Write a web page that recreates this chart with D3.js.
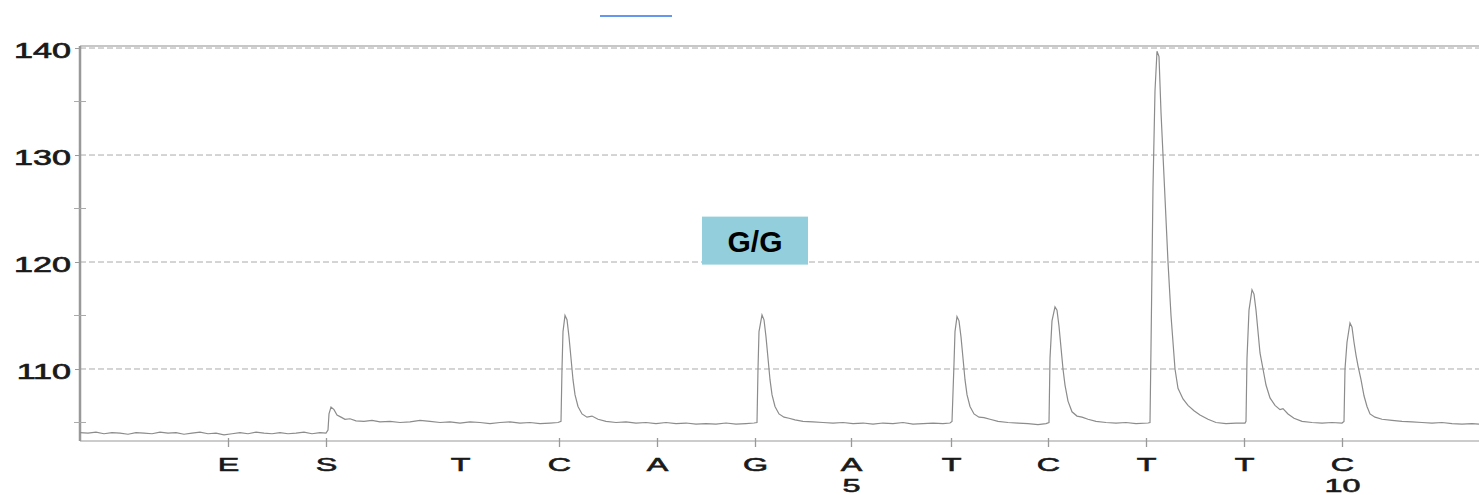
<!DOCTYPE html>
<html lang="en">
<head>
    <meta charset="UTF-8">
    <title>Pyrogram G/G</title>
    <script src="https://d3js.org/d3.v7.min.js"></script>
    <style>
        body { margin: 0; background: #fff; }
        text { font-family: "Liberation Sans", Arial, sans-serif; }
    </style>
</head>
<body>
    <svg id="chart"></svg>
    <script>
        // dispensation order and the time (run units) each one was injected
        const dispensations = ["E", "S", "T", "C", "A", "G", "A", "T", "C", "T", "T", "C"];
        const dispensationTimes = [148, 246, 380, 479, 577, 675, 771, 871, 968, 1066, 1164, 1262];
        const positionNumbers = ["", "", "", "", "", "", "5", "", "", "", "", "10"];
        const untickedDispensations = [2];

        const yMajor = [110, 120, 130, 140];
        const yMinor = [105, 115, 125, 135];

        const genotype = "G/G";
        const genotypeAt = [675, 122];

        // light signal trace [time, signal]
        const trace = [
            [0, 104.05], [8, 104.0], [16, 104.1], [24, 103.95], [32, 104.05], [40, 104.0], [48, 103.9], [56, 104.05],
            [64, 104.0], [72, 103.95], [80, 104.1], [88, 104.0], [96, 104.05], [104, 103.9], [112, 104.0], [120, 104.1],
            [128, 103.95], [136, 104.0], [144, 103.85], [152, 103.95], [160, 104.05], [168, 103.95], [176, 104.1],
            [184, 104.0], [192, 103.95], [200, 104.05], [208, 103.95], [216, 104.0], [224, 104.1], [232, 103.95],
            [240, 104.05], [246, 104.0],
            [248, 104.3], [249, 105.8], [251, 106.45], [254, 106.2], [257, 105.7], [261, 105.5], [265, 105.3],
            [270, 105.35], [276, 105.15], [284, 105.1], [292, 105.2], [300, 105.05], [310, 105.1], [320, 105.0],
            [330, 105.05], [340, 105.2], [350, 105.1], [360, 105.0], [370, 105.05], [380, 104.95], [390, 105.05],
            [400, 105.0], [410, 104.9], [420, 105.0], [430, 105.05], [440, 104.95], [450, 105.0], [460, 104.9],
            [470, 104.95], [478, 105.0],
            [481, 105.1], [482, 110], [483, 113.5], [485, 115.0], [487, 114.6], [489, 113], [491, 111], [493, 109],
            [495, 107.6], [498, 106.5], [502, 105.8], [507, 105.5], [512, 105.6], [518, 105.3], [526, 105.1],
            [536, 105.0], [546, 105.05], [556, 104.95], [566, 105.0], [576, 104.9], [586, 105.0], [596, 104.9],
            [606, 104.95], [616, 104.85], [626, 104.9], [636, 104.85], [646, 104.95], [656, 104.85], [666, 104.9],
            [674, 104.95],
            [677, 105.0], [678, 110], [679, 113.5], [682, 115.05], [684, 114.6], [686, 113], [688, 111], [690, 109],
            [692, 107.6], [695, 106.5], [699, 105.8], [704, 105.5], [709, 105.4], [715, 105.25], [723, 105.1],
            [733, 105.05], [743, 105.0], [753, 104.95], [763, 105.0], [773, 104.9], [783, 104.95], [793, 104.85],
            [803, 104.95], [813, 104.9], [823, 105.0], [833, 104.85], [843, 104.9], [853, 104.95], [863, 104.9],
            [870, 104.95],
            [872, 105.1], [874, 110.5], [875, 113.5], [877, 114.9], [879, 114.5], [881, 113], [883, 111], [885, 109],
            [887, 107.6], [890, 106.5], [894, 105.8], [899, 105.5], [904, 105.45], [910, 105.3], [918, 105.1],
            [928, 105.0], [938, 104.95], [948, 104.9], [958, 104.8], [966, 104.9],
            [969, 105.0], [970, 111], [972, 114.5], [975, 115.8], [977, 115.5], [979, 114], [981, 112], [983, 110],
            [985, 108.5], [988, 107], [992, 106], [997, 105.6], [1002, 105.5], [1008, 105.3], [1016, 105.1],
            [1026, 105.0], [1036, 104.95], [1046, 105.0], [1056, 104.9], [1068, 104.95],
            [1070, 105.0], [1071, 112], [1073, 127], [1075, 136], [1077, 139.7], [1079, 139.2], [1081, 134],
            [1083, 130], [1086, 124], [1088, 120], [1091, 115], [1095, 110], [1098, 108.2], [1103, 107.2],
            [1108, 106.6], [1114, 106.1], [1120, 105.7], [1128, 105.3], [1136, 105.0], [1146, 104.9], [1156, 104.95],
            [1165, 104.95],
            [1166, 105.1], [1167, 111], [1169, 115.5], [1172, 117.4], [1174, 117.0], [1176, 115.5], [1178, 113.5],
            [1180, 111.5], [1183, 110], [1186, 108.5], [1190, 107.3], [1195, 106.6], [1200, 106.2], [1203, 106.3],
            [1208, 105.8], [1214, 105.4], [1222, 105.1], [1232, 105.0], [1242, 104.95], [1252, 105.0], [1262, 104.95],
            [1264, 105.1], [1265, 110], [1267, 112.5], [1270, 114.3], [1272, 113.9], [1274, 112.5], [1276, 111.3],
            [1278, 110.3], [1281, 109], [1284, 107.5], [1287, 106.5], [1290, 105.8], [1295, 105.5], [1302, 105.3],
            [1312, 105.2], [1322, 105.1], [1332, 105.05], [1342, 105.0], [1352, 104.95], [1362, 105.0], [1372, 104.9],
            [1382, 104.85], [1392, 104.9], [1399, 104.85]
        ];

        const W = 1479, H = 495;
        const margin = { top: 46, right: 0, bottom: 54, left: 80 };

        const svg = d3.select("#chart").attr("width", W).attr("height", H);

        const x = d3.scaleLinear()
                    .domain([0, 1399])
                    .range([margin.left, W - margin.right]);

        const y = d3.scaleLinear()
                    .domain([103.27, 140.19])
                    .range([H - margin.bottom, margin.top]);

        // stray blue stroke at the top of the screenshot
        svg.append("line")
           .attr("x1", 600).attr("x2", 672)
           .attr("y1", 16).attr("y2", 16)
           .attr("stroke", "#6597ee")
           .attr("stroke-width", 2);

        // dashed grid
        svg.append("g")
           .selectAll("line")
           .data(yMajor)
           .join("line")
           .attr("x1", margin.left).attr("x2", W)
           .attr("y1", d => y(d)).attr("y2", d => y(d))
           .attr("stroke", "#aaa")
           .attr("stroke-width", 1)
           .attr("stroke-dasharray", "6,3");

        // top frame
        svg.append("line")
           .attr("x1", margin.left).attr("x2", W)
           .attr("y1", margin.top).attr("y2", margin.top)
           .attr("stroke", "#b5b5b5")
           .attr("stroke-width", 1.5);

        // bottom axis
        const xAxis = svg.append("g")
           .attr("transform", `translate(0,${H - margin.bottom})`)
           .call(d3.axisBottom(x)
                   .tickValues(dispensationTimes)
                   .tickFormat((d, i) => dispensations[i])
                   .tickSizeOuter(0));

        xAxis.select(".domain")
             .attr("stroke", "#bbb")
             .attr("stroke-width", 1.5)
             .attr("d", `M${margin.left},0H${W}`);

        xAxis.selectAll(".tick line")
             .attr("y1", -3).attr("y2", 6)
             .attr("stroke", "#999")
             .attr("stroke-width", 1.3)
             .style("display", (d, i) => untickedDispensations.includes(i) ? "none" : null);

        xAxis.selectAll(".tick text")
             .attr("y", null).attr("dy", null)
             .attr("transform", "translate(0,30) scale(1.7,1)")
             .attr("fill", "#1a1a1a")
             .attr("stroke", "#1a1a1a")
             .attr("stroke-width", 0.6)
             .style("font-size", "19px");

        xAxis.selectAll(".tick")
             .append("text")
             .attr("text-anchor", "middle")
             .attr("transform", "translate(0,51) scale(1.7,1)")
             .attr("fill", "#1a1a1a")
             .attr("stroke", "#1a1a1a")
             .attr("stroke-width", 0.6)
             .style("font-size", "19px")
             .text((d, i) => positionNumbers[i]);

        // left axis
        const yAxis = svg.append("g")
           .attr("transform", `translate(${margin.left},0)`)
           .call(d3.axisLeft(y).tickValues(yMajor).tickSize(5).tickSizeOuter(0));

        yAxis.select(".domain")
             .attr("stroke", "#999")
             .attr("stroke-width", 2.5)
             .attr("d", `M0,${margin.top}V${H - margin.bottom}`);

        yAxis.selectAll(".tick line").attr("stroke", "#999");

        yAxis.selectAll(".tick text")
             .attr("x", null).attr("dy", "0.45em")
             .attr("text-anchor", "end")
             .attr("transform", "translate(-9,0) scale(1.55,1)")
             .attr("fill", "#1a1a1a")
             .attr("stroke", "#1a1a1a")
             .attr("stroke-width", 0.7)
             .style("font-size", "22px");

        yAxis.append("g")
             .selectAll("line")
             .data(yMinor)
             .join("line")
             .attr("x1", -6).attr("x2", 6)
             .attr("y1", d => y(d)).attr("y2", d => y(d))
             .attr("stroke", "#aaa");

        // signal trace
        const line = d3.line()
                       .x(d => x(d[0]))
                       .y(d => y(d[1]));

        svg.append("path")
           .datum(trace)
           .attr("fill", "none")
           .attr("stroke", "#8c8c8c")
           .attr("stroke-width", 1.2)
           .attr("d", line);

        // genotype call box
        const label = svg.append("g")
           .attr("transform", `translate(${x(genotypeAt[0])},${y(genotypeAt[1])})`);

        label.append("rect")
             .attr("x", -53).attr("y", -24)
             .attr("width", 106).attr("height", 48)
             .attr("fill", "#92cedb");

        label.append("text")
             .attr("text-anchor", "middle")
             .attr("dy", "0.37em")
             .attr("fill", "#000")
             .style("font-size", "30px")
             .style("font-weight", "bold")
             .text(genotype);
    </script>
</body>
</html>
